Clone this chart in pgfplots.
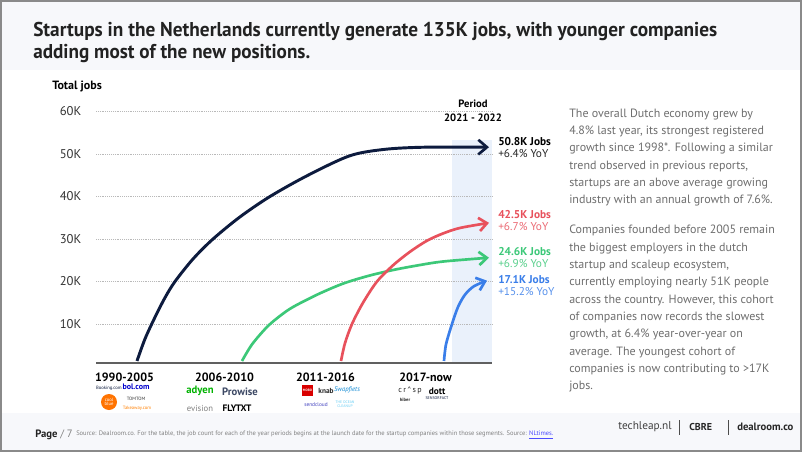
\documentclass[border=0pt]{standalone}
\usepackage{pgfplots}
\pgfplotsset{compat=1.18}
\usepackage{fontspec}
\setmainfont{PT Sans}
\usetikzlibrary{arrows.meta}
\definecolor{navy}{HTML}{0D1B3E}
\definecolor{cgreen}{HTML}{3CC878}
\definecolor{cred}{HTML}{E8515C}
\definecolor{cblue}{HTML}{3A7EE9}
\definecolor{bandbg}{HTML}{F7F8FB}
\definecolor{periodband}{HTML}{EAF1FB}
\definecolor{bordercol}{HTML}{8A8A8A}
\definecolor{titlecol}{HTML}{222222}
\definecolor{bodycol}{HTML}{6E6E6E}
\definecolor{tickcol}{HTML}{333333}
\begin{document}
\begin{tikzpicture}
\begin{scope}[x=0.75pt,y=-0.75pt]
 \useasboundingbox (0,0) rectangle (802,452);
 \fill[white] (0,0) rectangle (802,452);
 \fill[bandbg] (0,0) rectangle (802,70);
 \fill[bandbg] (0,413) rectangle (802,452);
 \fill[periodband] (452,140) rectangle (492,363);
\end{scope}
\begin{axis}[
  at={(72pt,-272.325pt)}, anchor=south west,
  scale only axis, width=297pt, height=195.075pt,
  xmin=96, xmax=492, ymin=0.8, ymax=62,
  clip=false,
  axis line style={draw=none},
  major tick length=0pt,
  xtick=\empty,
  ytick={10,20,30,40,50,60},
  yticklabels={10K,20K,30K,40K,50K,60K},
  yticklabel style={font=\fontsize{9.5}{10}\selectfont, text=tickcol, anchor=east, xshift=-7.5pt},
  ymajorgrids,
  grid style={densely dotted, gray!55, line width=0.5pt},
]
\draw[line width=1.6pt, gray!75!black] (axis cs:96,0.8) -- (axis cs:492,0.8);
\addplot[navy, line width=2.2pt, smooth, -{Straight Barb[length=6.5pt,width=11pt,line width=2pt]}] coordinates {
 (137,1.3) (145,6.5) (155,11.6) (165,16.2) (175,20) (193,25.3) (213,30) (240,35.2) (270,40) (308,45) (350,49.6) (385,51.1) (425,51.6) (489,51.6)};
\addplot[cgreen, line width=2pt, smooth, -{Straight Barb[length=6pt,width=10pt,line width=2pt]}] coordinates {
 (242,1.3) (252,5.2) (267,9.3) (280,11.9) (293,14.0) (318,17.0) (343,19.5) (368,21.3) (393,22.7) (418,23.8) (443,24.7) (489,25.6)};
\addplot[cred, line width=2pt, smooth, -{Straight Barb[length=6pt,width=10pt,line width=2pt]}] coordinates {
 (341,1.3) (345,5.5) (352,10) (363,15) (377,20) (393,23.8) (410,27) (427,29.6) (443,31.3) (460,32.6) (489,33.8)};
\addplot[cblue, line width=2pt, smooth, -{Straight Barb[length=6pt,width=10pt,line width=2pt]}] coordinates {
 (444,1.3) (446,5.2) (452,10) (458,14) (465,16.9) (474,18.9) (487,20.2)};
\end{axis}
\begin{scope}[x=0.75pt,y=-0.75pt]
 % title
 \node[anchor=base west, inner sep=0, text=titlecol] at (33,37) {\resizebox{513pt}{\height}{\fontsize{15}{18}\selectfont\bfseries Startups in the Netherlands currently generate 135K jobs, with younger companies}};
 \node[anchor=base west, inner sep=0, text=titlecol] at (33,59) {\resizebox{207.75pt}{\height}{\fontsize{15}{18}\selectfont\bfseries adding most of the new positions.}};
 % axis title
 \node[anchor=west, inner sep=0, text=black] at (52,86) {\fontsize{9}{10}\selectfont\bfseries Total jobs};
 \node[anchor=center, inner sep=0, align=center, text=black, font=\fontsize{8}{10.5}\selectfont\bfseries] at (473,111) {Period\\ 2021 - 2022};
 % arrow labels
 \node[anchor=west, inner sep=0, text=black] at (498,142) {\fontsize{8.5}{10}\selectfont\bfseries 50.8K Jobs};
 \node[anchor=west, inner sep=0, text=black!85] at (498,154) {\fontsize{8.5}{10}\selectfont +6.4\% YoY};
 \node[anchor=west, inner sep=0, text=cred] at (498,215) {\fontsize{8.5}{10}\selectfont\bfseries 42.5K Jobs};
 \node[anchor=west, inner sep=0, text=cred!85] at (498,227) {\fontsize{8.5}{10}\selectfont +6.7\% YoY};
 \node[anchor=west, inner sep=0, text=cgreen] at (498,252) {\fontsize{8.5}{10}\selectfont\bfseries 24.6K Jobs};
 \node[anchor=west, inner sep=0, text=cgreen!85] at (498,264) {\fontsize{8.5}{10}\selectfont +6.9\% YoY};
 \node[anchor=west, inner sep=0, text=cblue] at (498,280) {\fontsize{8.5}{10}\selectfont\bfseries 17.1K Jobs};
 \node[anchor=west, inner sep=0, text=cblue!85] at (498,292) {\fontsize{8.5}{10}\selectfont +15.2\% YoY};
 % period labels
 \foreach \xx/\tt in {124.5/1990-2005, 224.5/2006-2010, 325.5/2011-2016, 425.5/2017-now}
   \node[anchor=center, inner sep=0, text=black] at (\xx,377) {\fontsize{9}{10}\selectfont\bfseries \tt};
 % logos (approximate, as text)
 \node[inner sep=0, text=navy] at (109,388) {\fontsize{3.5}{4}\selectfont Booking.com};
 \node[inner sep=0, text=blue!80!black] at (136,387) {\fontsize{6}{7}\selectfont\bfseries bol.com};
 \fill[orange!90!red] (109,402) circle (8);
 \node[inner sep=0, text=white, align=center, font=\fontsize{3.5}{3.5}\selectfont] at (109,402) {cool\\blue};
 \node[inner sep=0, text=black!80] at (136,399) {\fontsize{3.5}{4}\selectfont TOMTOM};
 \node[inner sep=0, text=orange] at (137,408) {\fontsize{3.5}{4}\selectfont Takeaway.com};
 \node[inner sep=0, text=green!70!black] at (200,391) {\fontsize{8}{9}\selectfont\bfseries adyen};
 \node[inner sep=0, text=navy!80] at (240,392) {\fontsize{8}{9}\selectfont\bfseries Prowise};
 \node[inner sep=0, text=gray] at (200,408) {\fontsize{6.5}{7}\selectfont evision};
 \node[inner sep=0, text=black] at (237,408) {\fontsize{7}{8}\selectfont\bfseries FLYTXT};
 \fill[red!85!black] (302,385) rectangle (313,396);
 \node[inner sep=0, text=white] at (307.5,390.5) {\fontsize{2.5}{3}\selectfont\bfseries MOBO};
 \node[inner sep=0, text=black!85] at (326,391) {\fontsize{5.5}{6}\selectfont\bfseries knab};
 \node[inner sep=0, text=cyan!70!blue] at (347,390) {\fontsize{5}{6}\selectfont\itshape Swapfiets};
 \node[inner sep=0, text=blue!50!gray] at (316,405) {\fontsize{4}{5}\selectfont sendcloud};
 \node[inner sep=0, text=cyan!60, align=center, font=\fontsize{2.8}{3}\selectfont] at (345,404) {THE OCEAN\\CLEANUP};
 \node[inner sep=0, text=black!85] at (410,390) {\fontsize{6}{7}\selectfont c\,r\,\^{}\,s\,p};
 \node[inner sep=0, text=black] at (437,391) {\fontsize{7}{8}\selectfont\bfseries dott};
 \node[inner sep=0, text=black!85] at (405,400) {\fontsize{3.5}{4}\selectfont\bfseries hiber};
 \node[inner sep=0, text=navy] at (437,398) {\fontsize{3}{4}\selectfont SENSORFACT};
 % right text
 \node[anchor=north west, inner sep=0, align=left, text=bodycol, font=\fontsize{9}{13}\selectfont] at (569,108.5) {%
  The overall Dutch economy grew by\\
  4.8\% last year, its strongest registered\\
  growth since 1998*. Following a similar\\
  trend observed in previous reports,\\
  startups are an above average growing\\
  industry with an annual growth of 7.6\%.};
 \node[anchor=north west, inner sep=0, align=left, text=bodycol, font=\fontsize{9}{13}\selectfont] at (569,225) {%
  Companies founded before 2005 remain\\
  the biggest employers in the dutch\\
  startup and scaleup ecosystem,\\
  currently employing nearly 51K people\\
  across the country. However, this cohort\\
  of companies now records the  slowest\\
  growth, at 6.4\% year-over-year on\\
  average. The youngest cohort of\\
  companies is now contributing to >17K\\
  jobs.};
 % footer
 \node[anchor=west, inner sep=0] at (35,435) {\fontsize{8}{9}\selectfont\textbf{\color{titlecol}Page} {\color{gray}/ 7}};
 \node[anchor=west, inner sep=0, text=gray] at (76,435) {\fontsize{4.9}{5}\selectfont Source: Dealroom.co. For the table, the job count for each of the year periods begins at the launch date for the startup companies within those segments. Source: {\color{blue!70}\underline{NLtimes.}}};
 \node[anchor=west, inner sep=0, text=black!75] at (618,427) {\fontsize{8.5}{10}\selectfont techleap.nl};
 \draw[black!70, line width=0.6pt] (679,420) -- (679,435);
 \node[anchor=west, inner sep=0, text=black!85] at (689,427) {\fontsize{7.5}{10}\selectfont\bfseries CBRE};
 \draw[black!70, line width=0.6pt] (728,420) -- (728,435);
 \node[anchor=west, inner sep=0, text=black!85] at (737,427) {\fontsize{8}{10}\selectfont\bfseries dealroom.co};
 % border
 \draw[bordercol, line width=1.5pt] (1,1) rectangle (801,451);
\end{scope}
\end{tikzpicture}
\end{document}
